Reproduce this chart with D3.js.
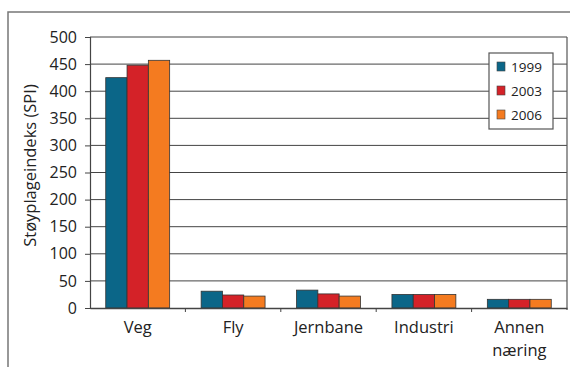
<!DOCTYPE html>
<html>
<head>
<meta charset="utf-8">
<script src="https://cdn.jsdelivr.net/npm/d3@7"></script>
<style>
  body { margin: 0; background: #fff; }
  svg { font-family: "Open Sans", "Noto Sans", sans-serif; }
</style>
</head>
<body>
<svg id="chart" width="570" height="367"></svg>
<script>
const categories = ['Veg', 'Fly', 'Jernbane', 'Industri', 'Annen næring'];
const years = ['1999', '2003', '2006'];
const v1999 = [425, 31, 33, 25, 16];
const v2003 = [448, 24, 26, 25, 16];
const v2006 = [457, 22, 22, 25, 16];
const yTicks = [0, 50, 100, 150, 200, 250, 300, 350, 400, 450, 500];
const colors = ['#0b6688', '#d42228', '#f47b20'];

const series = [v1999, v2003, v2006];
const m = {left: 90, right: 3, top: 37, bottom: 59};
const W = 570, H = 367;
const iw = W - m.left - m.right, ih = H - m.top - m.bottom;
const FONT = '"Open Sans", "Noto Sans", sans-serif';

const svg = d3.select('#chart');

// outer frame (only top and left visible)
svg.append('path').attr('d', `M8,${H}V12H${W}`)
   .attr('fill', 'none').attr('stroke', '#777').attr('stroke-width', 1.5);

const g = svg.append('g').attr('transform', `translate(${m.left},${m.top})`);

const x = d3.scaleBand().domain(categories).range([0, iw]).paddingInner(0.33).paddingOuter(0.165);
const xb = d3.scaleBand().domain(categories).range([0, iw]);
const xs = d3.scaleBand().domain(years).range([0, x.bandwidth()]);
const y = d3.scaleLinear().domain([0, 500]).range([ih, 0]);

// gridlines
g.append('g').selectAll('line').data(yTicks.filter(d => d > 0)).enter().append('line')
  .attr('x1', 0).attr('x2', iw).attr('y1', d => y(d)).attr('y2', d => y(d))
  .attr('stroke', '#444').attr('stroke-width', 1);

// right edge of plot area
g.append('line').attr('x1', iw).attr('x2', iw).attr('y1', 0).attr('y2', ih + 2)
  .attr('stroke', '#555').attr('stroke-width', 1.2);

// bars
years.forEach((yr, i) => {
  g.append('g').selectAll('rect').data(series[i]).enter().append('rect')
    .attr('x', (d, j) => x(categories[j]) + xs(yr))
    .attr('y', d => y(d))
    .attr('width', xs.bandwidth())
    .attr('height', d => ih - y(d))
    .attr('fill', colors[i])
    .attr('stroke', '#333').attr('stroke-width', 0.8);
});

// y axis
const yAxis = g.append('g').call(d3.axisLeft(y).tickValues(yTicks).tickSize(5).tickPadding(8))
  .attr('font-family', FONT);
yAxis.select('.domain').attr('stroke', '#444').attr('stroke-width', 1.2);
yAxis.selectAll('.tick line').attr('stroke', '#444');
yAxis.selectAll('text').attr('font-size', 16).attr('fill', '#222');

// x axis
const xAxis = g.append('g').attr('transform', `translate(0,${ih})`)
  .call(d3.axisBottom(xb).tickSize(0).tickPadding(0).tickFormat(''))
  .attr('font-family', FONT);
xAxis.select('.domain').attr('stroke', '#444').attr('stroke-width', 1.5);
g.append('g').attr('transform', `translate(0,${ih})`).selectAll('line')
  .data(categories.slice(1)).enter().append('line')
  .attr('x1', d => xb(d)).attr('x2', d => xb(d)).attr('y1', 0).attr('y2', 4)
  .attr('stroke', '#444');
xAxis.selectAll('.tick').each(function(d) {
  const t = d3.select(this).select('text').text(null)
    .attr('y', 0).attr('dy', null)
    .attr('font-size', 16.5).attr('fill', '#222');
  d.split(' ').forEach((w, k) => {
    t.append('tspan').attr('x', 0).attr('y', 25 + k * 23).text(w);
  });
});

// y label
svg.append('text')
  .attr('transform', `translate(36,${m.top + ih / 2 - 7}) rotate(-90)`)
  .attr('text-anchor', 'middle').attr('font-size', 16.5).attr('fill', '#222')
  .text('Støyplageindeks (SPI)');

// legend
const lg = svg.append('g').attr('transform', 'translate(489,53)');
lg.append('rect').attr('width', 64).attr('height', 76)
  .attr('fill', '#fff').attr('stroke', '#555').attr('stroke-width', 1.2);
years.forEach((yr, i) => {
  const row = lg.append('g').attr('transform', `translate(8,${14 + i * 24})`);
  row.append('rect').attr('x', 0).attr('y', -5).attr('width', 8).attr('height', 9)
    .attr('fill', colors[i]).attr('stroke', '#444').attr('stroke-width', 0.6);
  row.append('text').attr('x', 14).attr('y', 5).attr('font-size', 13.5).attr('fill', '#222').text(yr);
});
</script>
</body>
</html>
